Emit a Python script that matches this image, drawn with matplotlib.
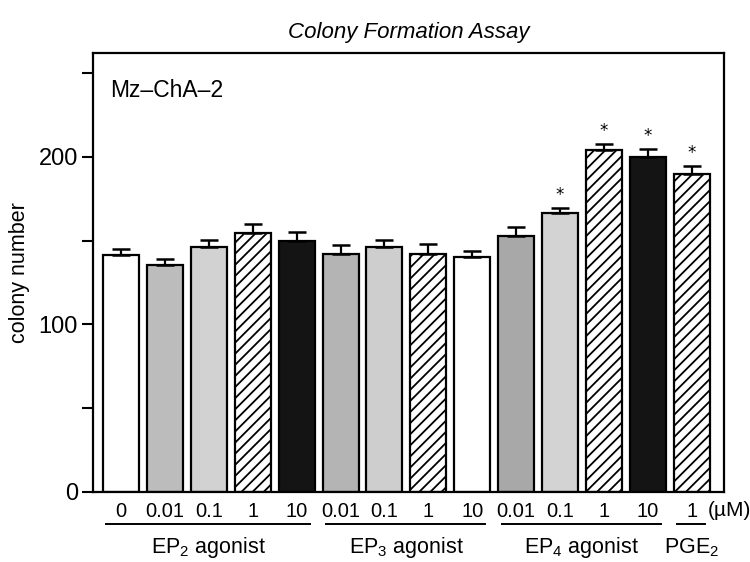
import matplotlib
matplotlib.use("Agg")
import matplotlib.pyplot as plt
import matplotlib.transforms as mtransforms
from matplotlib import font_manager

# --- data ---
dose_labels = ["0", "0.01", "0.1", "1", "10",
               "0.01", "0.1", "1", "10",
               "0.01", "0.1", "1", "10", "1"]
colony_mean = [141.4, 135.4, 146.2, 154.5, 150.0,
               141.8, 146.0, 142.1, 140.4,
               152.7, 166.7, 204.0, 199.9, 189.5]
colony_err = [3.6, 3.4, 4.0, 5.2, 5.0,
              5.8, 4.4, 5.9, 3.6,
              5.6, 2.9, 3.8, 4.7, 5.2]
significant = [False] * 10 + [True] * 4
group_names = [r"EP$_2$ agonist", r"EP$_3$ agonist", r"EP$_4$ agonist", r"PGE$_2$"]
group_first = [0, 5, 9, 13]
group_last = [4, 8, 12, 13]

# --- bar styles ---
fills = ["white", "#bcbcbc", "#d2d2d2", "white", "#141414",
         "#b4b4b4", "#cecece", "white", "white",
         "#a8a8a8", "#d3d3d3", "white", "#141414", "white"]
hatches = ["", "", "", "///", "",
           "", "", "///", "",
           "", "", "///", "", "///"]


def pick_font(names):
    for name in names:
        try:
            font_manager.findfont(name, fallback_to_default=False)
            return name
        except ValueError:
            continue
    return "DejaVu Sans"


regular = pick_font(["Liberation Sans", "Arial", "DejaVu Sans"])
narrow = pick_font(["Liberation Sans Narrow", "Liberation Sans"])
narrow_size = 17 if narrow == "Liberation Sans Narrow" else 14.5

plt.rcParams["font.family"] = [regular, "DejaVu Sans"]
plt.rcParams["mathtext.fontset"] = "custom"
plt.rcParams["mathtext.rm"] = narrow
plt.rcParams["hatch.linewidth"] = 1.3

fig = plt.figure(figsize=(7.5, 5.62), dpi=100)
ax = fig.add_axes([0.1244, 0.1246, 0.8413, 0.7811])

x = list(range(len(colony_mean)))
ax.bar(x, colony_mean, width=0.82, color=fills, edgecolor="black",
       linewidth=1.6, hatch=hatches, zorder=2)
ax.errorbar(x, colony_mean, yerr=[[0] * len(colony_err), colony_err],
            fmt="none", ecolor="black", elinewidth=1.6, capsize=6.5,
            capthick=1.8, zorder=3)

for xi, m, e, s in zip(x, colony_mean, colony_err, significant):
    if s:
        ax.text(xi, m + e + 2.5, "*", ha="center", va="bottom",
                fontsize=12, family="DejaVu Sans")

ax.set_xlim(-0.63, 13.74)
ax.set_ylim(0, 262)
ax.set_yticks([0, 50, 100, 150, 200, 250])
ax.set_yticklabels(["0", "", "100", "", "200", ""])
ax.tick_params(axis="y", direction="out", length=8, width=1.5,
               labelsize=17, pad=3)
ax.set_xticks(x)
ax.set_xticklabels(dose_labels, family=narrow, fontsize=narrow_size)
ax.tick_params(axis="x", length=0, pad=7)
for sp in ax.spines.values():
    sp.set_linewidth(1.6)

ax.set_ylabel("colony number", fontsize=15.5, labelpad=6)
ax.set_title("Colony Formation Assay", style="italic", fontsize=16, pad=11)
ax.text(0.027, 0.915, "Mz\u2013ChA\u20132", transform=ax.transAxes,
        fontsize=16.5, ha="left", va="center")

# unit label after the last tick
ax.text(13.36, -0.043, "(\u00b5M)", transform=mtransforms.blended_transform_factory(
    ax.transData, ax.transAxes), ha="left", va="center", family=narrow,
    fontsize=narrow_size + 0.5)

# group underlines and names
trans = mtransforms.blended_transform_factory(ax.transData, fig.transFigure)
for name, a, b in zip(group_names, group_first, group_last):
    ax.plot([a - 0.33, b + 0.3], [0.0676, 0.0676], color="black", lw=1.4,
            transform=trans, clip_on=False)
    ax.text((a + b) / 2, 0.026, name, transform=trans, ha="center",
            va="center", fontsize=narrow_size + 1, family=narrow)

fig.savefig("out.png", dpi=100)
